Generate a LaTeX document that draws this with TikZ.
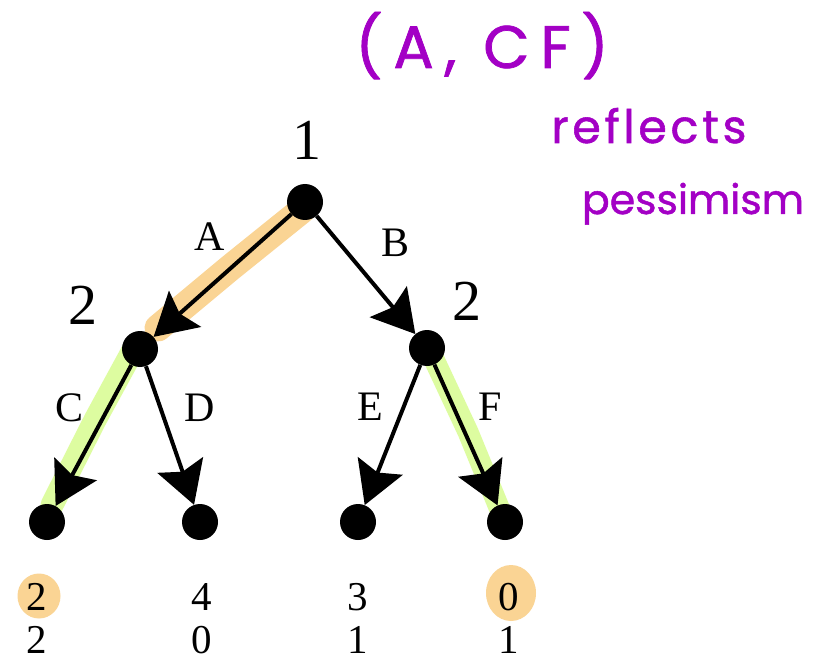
\documentclass[tikz,border=0pt]{standalone}
\usepackage{fontspec}
\setmainfont{Liberation Serif}
\newfontfamily\hand[FakeBold=1.2]{Poppins}
\usetikzlibrary{arrows.meta,backgrounds}
\definecolor{hlorange}{RGB}{250,212,148}
\definecolor{hlgreen}{RGB}{221,252,160}
\definecolor{ink}{RGB}{163,0,197}
\begin{document}
\begin{tikzpicture}[x=1pt,y=-1pt,
  dot/.style={circle,fill=black,minimum size=36pt,inner sep=0pt},
  edge/.style={line width=4pt,-{Stealth[length=42pt,width=48pt,inset=7pt]}},
  player/.style={font=\fontsize{58}{58}\selectfont,inner sep=0pt},
  move/.style={font=\fontsize{42}{42}\selectfont,inner sep=0pt},
  pay/.style={font=\fontsize{41}{41}\selectfont,inner sep=0pt},
  note/.style={text=ink,inner sep=0pt,anchor=base},
  hl/.style={line cap=round,line join=round}]
\useasboundingbox (0,0) rectangle (819,663);

% decision and terminal nodes
\node[dot] (root) at (305,202) {};
\node[dot] (l) at (140,349) {};
\node[dot] (r) at (427,348) {};
\node[dot] (ll) at (47,522) {};
\node[dot] (lr) at (200,522) {};
\node[dot] (rl) at (358,522) {};
\node[dot] (rr) at (505,522) {};

% player labels
\node[player] (p1) at (307,140) {1};
\node[player] (p2l) at (83,305) {2};
\node[player] (p2r) at (467,301) {2};

% edges
\draw[edge] (root) -- (l);
\draw[edge] (root) -- (r);
\draw[edge] (l) -- (ll);
\draw[edge] (l) -- (lr);
\draw[edge] (r) -- (rl);
\draw[edge] (r) -- (rr);

% move labels
\node[move] (mA) at (210,237) {A};
\node[move] (mB) at (396,243) {B};
\node[move] (mC) at (70,408) {C};
\node[move] (mD) at (200,408) {D};
\node[move] (mE) at (370,407) {E};
\node[move] (mF) at (490,407) {F};

% payoffs
\node[pay] (u1a) at (37,597) {2};
\node[pay] (u1b) at (202,597) {4};
\node[pay] (u1c) at (358,597) {3};
\node[pay] (u1d) at (509,597) {0};
\node[pay] (u2a) at (37,640) {2};
\node[pay] (u2b) at (202,640) {0};
\node[pay] (u2c) at (358,640) {1};
\node[pay] (u2d) at (509,640) {1};

% handwritten notes
\node[note,font=\hand\fontsize{60}{60}\selectfont\addfontfeature{LetterSpace=18}] (n1) at (482,68) {(A, CF)};
\node[note,font=\hand\fontsize{46}{46}\selectfont\addfontfeature{LetterSpace=8}] (n2) at (649,143) {reflects};
\node[note,font=\hand\fontsize{41}{41}\selectfont] (n3) at (693,214) {pessimism};

% highlights
\begin{pgfonlayer}{background}
\fill[white] (0,0) rectangle (819,663);
\draw[hl,hlorange,line width=27pt] (302,210) -- (230,268) -- (158,328);
\draw[hl,hlgreen,line width=23pt] (132,352) -- (95,420) -- (52,505);
\draw[hl,hlgreen,line width=21pt] (432,355) -- (468,432) -- (500,510);
\fill[hlorange] (39,596) ellipse (21.5 and 22.5);
\fill[hlorange] (511,593) ellipse (25 and 28);
\end{pgfonlayer}
\end{tikzpicture}
\end{document}
